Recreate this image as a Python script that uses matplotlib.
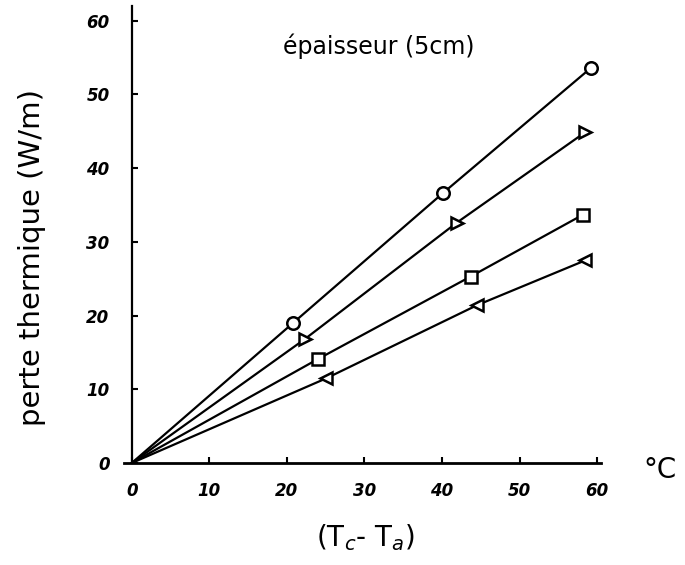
import matplotlib.pyplot as plt

# temperature difference (Tc - Ta) in degC, heat loss in W/m
circle_x = [0, 20.8, 40.1, 59.2]
circle_y = [0, 19.0, 36.6, 53.6]
tri_r_x = [0, 22.3, 41.9, 58.5]
tri_r_y = [0, 16.8, 32.6, 44.9]
square_x = [0, 24.0, 43.7, 58.2]
square_y = [0, 14.1, 25.3, 33.7]
tri_l_x = [0, 25.1, 44.5, 58.5]
tri_l_y = [0, 11.5, 21.4, 27.5]

x_ticks = [0, 10, 20, 30, 40, 50, 60]
y_ticks = [0, 10, 20, 30, 40, 50, 60]

fig = plt.figure(figsize=(6.85, 5.65), dpi=100)
ax = fig.add_axes([124 / 685, 1 - 463 / 565, 477 / 685, 457 / 565])

series = [
    (circle_x, circle_y, 'o'),
    (tri_r_x, tri_r_y, '>'),
    (square_x, square_y, 's'),
    (tri_l_x, tri_l_y, '<'),
]
for xs, ys, mk in series:
    ax.plot(xs, ys, color='black', linewidth=1.6, marker=mk, markersize=9,
            markerfacecolor='white', markeredgecolor='black', markeredgewidth=1.8,
            markevery=[1, 2, 3])

ax.set_xlim(-1, 60.5)
ax.set_ylim(0, 62)
ax.spines['left'].set_position(('data', 0))
ax.spines['top'].set_visible(False)
ax.spines['right'].set_visible(False)
ax.spines['left'].set_linewidth(1.6)
ax.spines['bottom'].set_linewidth(2)

ax.set_xticks(x_ticks)
ax.set_yticks(y_ticks)
ax.tick_params(direction='in', length=4, width=1.5, labelsize=12)
ax.tick_params(axis='x', pad=14)
ax.tick_params(axis='y', pad=16)
for lab in ax.get_xticklabels() + ax.get_yticklabels():
    lab.set_fontweight('bold')
    lab.set_fontstyle('italic')

ax.text(19.5, 56.5, "épaisseur (5cm)", fontsize=17, ha='left', va='center')

fig.text(32 / 685, 1 - 258 / 565, "perte thermique (W/m)", rotation=90,
         fontsize=21, ha='center', va='center')
fig.text(365 / 685, 1 - 538 / 565, "(T$_c$- T$_a$)", fontsize=20,
         ha='center', va='center')
fig.text(660 / 685, 1 - 470 / 565, "°C", fontsize=20, ha='center', va='center')

fig.savefig("out.png", dpi=100)
